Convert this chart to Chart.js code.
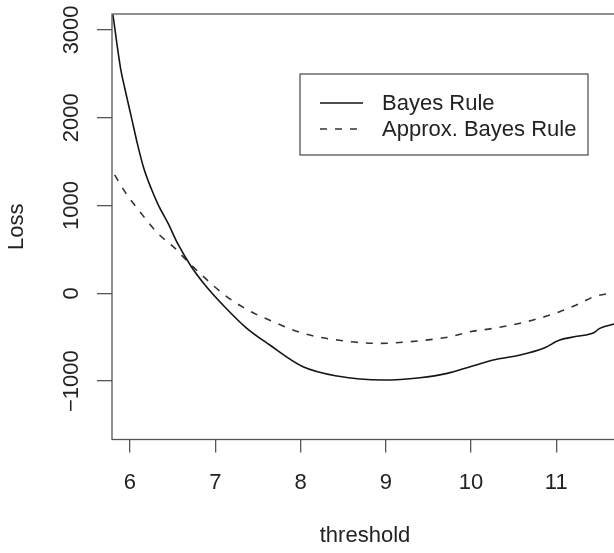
<!DOCTYPE html>
<html>
<head>
<meta charset="utf-8">
<script src="https://cdn.jsdelivr.net/npm/chart.js@4"></script>
<style>
  html, body { margin: 0; padding: 0; background: #fff; overflow: hidden; }
</style>
</head>
<body>
<canvas id="lossChart" width="618" height="553"></canvas>
<script>
// values
const bayesThreshold = [5.80, 5.89, 5.94, 6.02, 6.09, 6.16, 6.25, 6.33, 6.45, 6.56, 6.72, 6.88, 7.11, 7.36, 7.64, 8.03, 8.43, 8.97, 9.40, 9.72, 9.99, 10.26, 10.58, 10.85, 11.04, 11.24, 11.44, 11.51, 11.68];
const bayesLoss = [3172, 2560, 2330, 1990, 1690, 1430, 1190, 1010, 790, 565, 303, 95, -153, -390, -589, -836, -942, -988, -962, -912, -836, -760, -703, -627, -532, -490, -449, -399, -350];

const approxThreshold = [5.82, 5.94, 6.13, 6.33, 6.52, 6.64, 6.84, 7.11, 7.38, 7.68, 8.03, 8.43, 8.93, 9.40, 9.75, 9.99, 10.26, 10.65, 11.04, 11.28, 11.44, 11.67];
const approxLoss = [1348, 1158, 912, 680, 520, 399, 209, -19, -190, -324, -456, -532, -570, -540, -495, -438, -399, -324, -210, -114, -39, 7];

const seriesLabels = ['Bayes Rule', 'Approx. Bayes Rule'];
const xTicks = [6, 7, 8, 9, 10, 11];
const yTicks = [-1000, 0, 1000, 2000, 3000];

const FONT = 'Liberation Sans, Arial, Helvetica, sans-serif';
const INK = '#222';
const AXIS = '#555';

function points(xs, ys) {
  return xs.map((x, i) => ({ x: x, y: ys[i] }));
}

// box around the plot region, like R's box()
const boxPlugin = {
  id: 'plotBox',
  afterDraw(chart) {
    const a = chart.chartArea;
    const ctx = chart.ctx;
    ctx.save();
    ctx.strokeStyle = AXIS;
    ctx.lineWidth = 1.3;
    ctx.strokeRect(a.left, a.top, a.right - a.left, a.bottom - a.top);
    ctx.restore();
  }
};

// y tick labels rotated parallel to the axis
const yLabelPlugin = {
  id: 'yLabels',
  afterDraw(chart) {
    const y = chart.scales.y;
    const ctx = chart.ctx;
    ctx.save();
    ctx.fillStyle = INK;
    ctx.font = '22px ' + FONT;
    ctx.textAlign = 'center';
    ctx.textBaseline = 'middle';
    y.ticks.forEach(t => {
      const py = y.getPixelForValue(t.value);
      ctx.save();
      ctx.translate(72, py);
      ctx.rotate(-Math.PI / 2);
      ctx.fillText(t.value < 0 ? '\u2212' + Math.abs(t.value) : String(t.value), 0, 0);
      ctx.restore();
    });
    ctx.restore();
  }
};

// boxed legend in the upper right of the plot
const legendPlugin = {
  id: 'boxLegend',
  afterDraw(chart) {
    const ctx = chart.ctx;
    const bx = 300, by = 74, bw = 288, bh = 81;
    ctx.save();
    ctx.strokeStyle = AXIS;
    ctx.lineWidth = 1.3;
    ctx.fillStyle = '#fff';
    ctx.fillRect(bx, by, bw, bh);
    ctx.strokeRect(bx, by, bw, bh);
    ctx.font = '22px ' + FONT;
    ctx.textBaseline = 'middle';
    ctx.textAlign = 'left';
    chart.data.datasets.forEach((ds, i) => {
      const ry = by + 29 + i * 26;
      ctx.strokeStyle = ds.borderColor;
      ctx.lineWidth = ds.borderWidth;
      ctx.setLineDash(ds.borderDash || []);
      ctx.beginPath();
      ctx.moveTo(bx + 20, ry);
      ctx.lineTo(bx + 63, ry);
      ctx.stroke();
      ctx.setLineDash([]);
      ctx.fillStyle = INK;
      ctx.fillText(ds.label, bx + 82, ry + 1);
    });
    ctx.restore();
  }
};

new Chart(document.getElementById('lossChart'), {
  type: 'line',
  data: {
    datasets: [
      {
        label: seriesLabels[0],
        data: points(bayesThreshold, bayesLoss),
        borderColor: '#151515',
        borderWidth: 1.6,
        pointRadius: 0,
        cubicInterpolationMode: 'monotone'
      },
      {
        label: seriesLabels[1],
        data: points(approxThreshold, approxLoss),
        borderColor: '#333',
        borderWidth: 1.6,
        borderDash: [7, 8],
        pointRadius: 0,
        cubicInterpolationMode: 'monotone'
      }
    ]
  },
  options: {
    responsive: false,
    animation: false,
    devicePixelRatio: 1,
    layout: { padding: { top: 14, left: 0, right: 0, bottom: 0 } },
    plugins: {
      legend: { display: false },
      tooltip: { enabled: false }
    },
    scales: {
      x: {
        type: 'linear',
        min: 5.789,
        max: 11.724,
        afterBuildTicks: scale => { scale.ticks = xTicks.map(v => ({ value: v })); },
        afterFit: scale => { scale.height = 113.5; },
        border: { display: false },
        grid: { drawOnChartArea: false, tickLength: 13, color: AXIS, lineWidth: 1.3 },
        ticks: { color: INK, font: { family: FONT, size: 22 }, padding: 17, maxRotation: 0 },
        title: { display: true, text: 'threshold', color: INK, font: { family: FONT, size: 22 }, padding: { top: 0, bottom: 4 } }
      },
      y: {
        type: 'linear',
        min: -1665,
        max: 3181,
        afterBuildTicks: scale => { scale.ticks = yTicks.map(v => ({ value: v })); },
        afterFit: scale => { scale.width = 112; },
        border: { display: false },
        grid: { drawOnChartArea: false, tickLength: 15, color: AXIS, lineWidth: 1.3 },
        ticks: { display: false },
        title: { display: true, text: 'Loss', color: INK, font: { family: FONT, size: 22 }, padding: { top: 4, bottom: 0 } }
      }
    }
  },
  plugins: [boxPlugin, yLabelPlugin, legendPlugin]
});
</script>
</body>
</html>
